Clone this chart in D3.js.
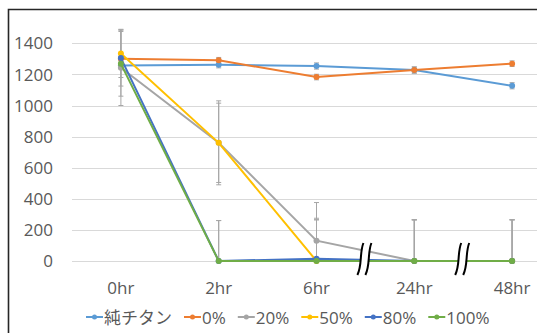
<!DOCTYPE html>
<html>
<head>
<meta charset="utf-8">
<script src="https://cdn.jsdelivr.net/npm/d3@7"></script>
<style>
  body { margin: 0; background: #fff; }
  svg { display: block; font-family: "Open Sans", "Noto Sans CJK JP", sans-serif; }
</style>
</head>
<body>
<svg id="chart" width="537" height="333"></svg>
<script>
// Categories (x axis)
var CATEGORIES = ["0hr", "2hr", "6hr", "24hr", "48hr"];

// Y axis ticks
var Y_TICKS = [0, 200, 400, 600, 800, 1000, 1200, 1400];

// Series names, colours, values and error amounts
var NAMES = ["純チタン", "0%", "20%", "50%", "80%", "100%"];
var COLORS = ["#5B9BD5", "#ED7D31", "#A5A5A5", "#FFC000", "#4472C4", "#70AD47"];

var V_TI   = [1258, 1262, 1254, 1228, 1127];
var V_0    = [1301, 1291, 1183, 1228, 1269];
var V_20   = [1243, 760, 131, 0, 0];
var V_50   = [1335, 760, 0, 0, 0];
var V_80   = [1305, 0, 15, 0, 0];
var V_100  = [1268, 0, 0, 0, 0];

var E_TI   = [20, 20, 20, 20, 20];
var E_0    = [15, 18, 18, 20, 18];
var E_20   = [243, 270, 245, 265, 265];
var E_50   = [155, 255, 265, 265, 265];
var E_80   = [180, 260, 260, 265, 265];
var E_100  = [208, 260, 265, 265, 265];

var VALUES = [V_TI, V_0, V_20, V_50, V_80, V_100];
var ERRORS = [E_TI, E_0, E_20, E_50, E_80, E_100];

// Axis breaks drawn between these category pairs
var BREAKS = [["6hr", "24hr"], ["24hr", "48hr"]];

var svg = d3.select("#chart");

var x = d3.scaleBand().domain(CATEGORIES).range([72, 561]);
var y = d3.scaleLinear().domain([0, 1400]).range([261, 43.3]);
function cx(c) { return x(c) + x.bandwidth() / 2; }

// frame
svg.append("path")
  .attr("d", "M8.5,333 L8.5,9.5 L537,9.5")
  .attr("fill", "none")
  .attr("stroke", "#262626")
  .attr("stroke-width", 1.6);

// gridlines
svg.append("g").selectAll("line")
    .data(Y_TICKS)
  .enter().append("line")
    .attr("x1", 72).attr("x2", 537)
    .attr("y1", d => Math.round(y(d)) + 0.5)
    .attr("y2", d => Math.round(y(d)) + 0.5)
    .attr("stroke", "#D9D9D9")
    .attr("stroke-width", 1);

// y tick labels
svg.append("g").selectAll("text")
    .data(Y_TICKS)
  .enter().append("text")
    .attr("x", 53)
    .attr("y", d => y(d))
    .attr("dy", "0.36em")
    .attr("text-anchor", "end")
    .attr("fill", "#595959")
    .style("font-size", "17px")
    .text(d => d);

// x tick labels
svg.append("g").selectAll("text")
    .data(CATEGORIES)
  .enter().append("text")
    .attr("x", d => cx(d))
    .attr("y", 294)
    .attr("text-anchor", "middle")
    .attr("fill", "#595959")
    .style("font-size", "17px")
    .text(d => d);

// error bars
var eb = svg.append("g");
VALUES.forEach(function (vals, si) {
  vals.forEach(function (v, i) {
    var px = cx(CATEGORIES[i]);
    var e = ERRORS[si][i];
    var lo = y(Math.max(0, v - e)), hi = y(v + e);
    eb.append("line")
      .attr("x1", px).attr("x2", px)
      .attr("y1", lo).attr("y2", hi)
      .attr("stroke", "#A6A6A6").attr("stroke-width", 1);
    [v + e, v - e].forEach(function (w) {
      if (w < 0) return;
      eb.append("line")
        .attr("x1", px - 2.5).attr("x2", px + 2.5)
        .attr("y1", y(w)).attr("y2", y(w))
        .attr("stroke", "#A6A6A6").attr("stroke-width", 1);
    });
  });
});

// series lines and markers
var line = d3.line()
  .x((d, i) => cx(CATEGORIES[i]))
  .y(d => y(d));

VALUES.forEach(function (vals, si) {
  var g = svg.append("g");
  g.append("path")
    .attr("d", line(vals))
    .attr("fill", "none")
    .attr("stroke", COLORS[si])
    .attr("stroke-width", 2);
  g.selectAll("circle")
      .data(vals)
    .enter().append("circle")
      .attr("cx", (d, i) => cx(CATEGORIES[i]))
      .attr("cy", d => y(d))
      .attr("r", 3)
      .attr("fill", COLORS[si]);
});

// axis break marks
BREAKS.forEach(function (b) {
  var mx = (cx(b[0]) + cx(b[1])) / 2 - 1;
  var top = 243, bot = 275, gap = 8;
  function stroke(x0) {
    return "M" + (x0 + 3) + "," + top +
      " C" + (x0 - 1) + "," + (top + 10) + " " + (x0 + 2) + "," + (bot - 10) + " " + (x0 - 3) + "," + bot;
  }
  var g = svg.append("g");
  g.append("path")
    .attr("d", "M" + (mx - gap / 2 + 3) + "," + top + " L" + (mx + gap / 2 + 3) + "," + top +
      " L" + (mx + gap / 2 - 3) + "," + bot + " L" + (mx - gap / 2 - 3) + "," + bot + " Z")
    .attr("fill", "#fff");
  [mx - gap / 2, mx + gap / 2].forEach(function (x0) {
    g.append("path")
      .attr("d", stroke(x0))
      .attr("fill", "none")
      .attr("stroke", "#000")
      .attr("stroke-width", 2);
  });
});

// legend
var lg = svg.append("g");
var lx = 86, ly = 317;
NAMES.forEach(function (n, si) {
  lg.append("line")
    .attr("x1", lx).attr("x2", lx + 17)
    .attr("y1", ly).attr("y2", ly)
    .attr("stroke", COLORS[si]).attr("stroke-width", 2);
  lg.append("circle")
    .attr("cx", lx + 8.5).attr("cy", ly).attr("r", 2.5)
    .attr("fill", COLORS[si]);
  var t = lg.append("text")
    .attr("x", lx + 18)
    .attr("y", 324)
    .attr("fill", "#595959")
    .style("font-size", "17px")
    .text(n);
  lx += 18 + t.node().getComputedTextLength() + 12;
});
</script>
</body>
</html>
